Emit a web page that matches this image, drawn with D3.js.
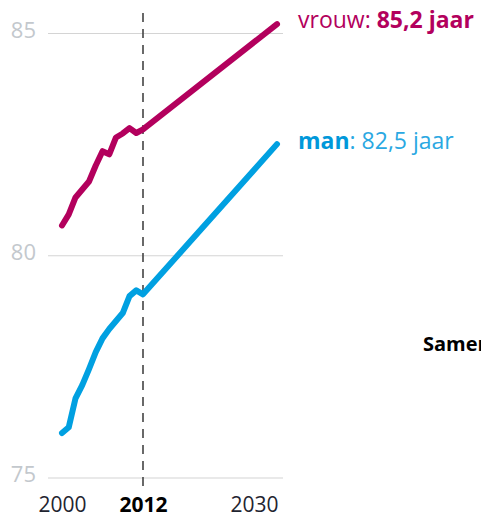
<!DOCTYPE html>
<html>
<head>
<meta charset="utf-8">
<script src="https://cdn.jsdelivr.net/npm/d3@7"></script>
<style>
  body { margin: 0; background: #fff; }
  svg { display: block; font-family: "Open Sans", "Noto Sans", sans-serif; }
</style>
</head>
<body>
<svg id="chart" width="481" height="519"></svg>
<script>
// levensverwachting bij geboorte
const years = [2000, 2001, 2002, 2003, 2004, 2005, 2006, 2007, 2008, 2009, 2010, 2011, 2012, 2030];
const vrouw = [80.67, 80.92, 81.3, 81.48, 81.66, 82.02, 82.34, 82.27, 82.65, 82.74, 82.86, 82.75, 82.83, 85.2];
const man = [76.0, 76.13, 76.78, 77.08, 77.44, 77.82, 78.13, 78.34, 78.52, 78.7, 79.08, 79.21, 79.12, 82.5];
const yTicks = [75, 80, 85];
const xTicks = [2000, 2012, 2030];
const splitYear = 2012;

const svg = d3.select("#chart");

// historisch deel iets smaller dan de prognose
const x = d3.scaleLinear().domain([2000, 2012, 2030]).range([62, 143, 277]);
const y = d3.scaleLinear().domain([75, 85]).range([477.5, 33]);

// horizontale hulplijnen
const yAxis = svg.append("g")
  .attr("transform", "translate(48,0)")
  .call(d3.axisLeft(y).tickValues(yTicks).tickSize(-235).tickPadding(12).tickFormat(d3.format("d")));
yAxis.select(".domain").remove();
yAxis.selectAll("line").attr("stroke", "#d4d4d4").attr("stroke-width", 1.2);
yAxis.selectAll("text")
  .attr("dy", "0.2em")
  .style("font-size", "22px")
  .style("font-family", "'Open Sans', sans-serif")
  .attr("fill", "#c3c8cd");

// jaartallen
const xAxis = svg.append("g")
  .attr("transform", "translate(0,512)")
  .call(d3.axisBottom(x).tickValues(xTicks).tickSize(0).tickFormat(d3.format("d")));
xAxis.select(".domain").remove();
xAxis.selectAll("text")
  .attr("y", 0)
  .attr("dy", 0)
  .style("font-size", "21px")
  .style("font-family", "'Open Sans', sans-serif")
  .style("font-weight", d => d === splitYear ? "bold" : "normal")
  .attr("fill", d => d === splitYear ? "#000" : "#1f2430");
xAxis.selectAll(".tick")
  .filter(d => d === 2030)
  .select("text")
  .attr("text-anchor", "end")
  .attr("x", 1);

// stippellijn bij 2012
svg.append("line")
  .attr("x1", x(splitYear))
  .attr("x2", x(splitYear))
  .attr("y1", 13)
  .attr("y2", 492)
  .attr("stroke", "#444")
  .attr("stroke-width", 1.6)
  .attr("stroke-dasharray", "9,7");

const line = d3.line()
  .x((d, i) => x(years[i]))
  .y(d => y(d));

const series = [
  { name: "vrouw", values: vrouw, color: "#b3005d" },
  { name: "man", values: man, color: "#00a0e1" },
];

series.forEach(s => {
  svg.append("path")
    .datum(s.values)
    .attr("d", line)
    .attr("fill", "none")
    .attr("stroke", s.color)
    .attr("stroke-width", 6)
    .attr("stroke-linecap", "round")
    .attr("stroke-linejoin", "round");
});

const fmt = v => d3.format(".1f")(v).replace(".", ",");
const last = years.length - 1;

// label vrouw
const tv = svg.append("text")
  .attr("x", x(years[last]) + 21)
  .attr("y", y(vrouw[last]) + 4)
  .style("font-size", "23px")
  .attr("fill", "#b3005d");
tv.append("tspan").text("vrouw: ");
tv.append("tspan").style("font-weight", "bold").text(fmt(vrouw[last]) + " jaar");

// label man
const tm = svg.append("text")
  .attr("x", x(years[last]) + 21)
  .attr("y", y(man[last]) + 5)
  .style("font-size", "23px");
tm.append("tspan").style("font-weight", "bold").attr("fill", "#0098da").text("man");
tm.append("tspan").attr("fill", "#2aa8e2").text(": " + fmt(man[last]) + " jaar");

// afgesneden tekst rechts
svg.append("text")
  .attr("x", 423)
  .attr("y", 351)
  .style("font-size", "20px")
  .style("font-weight", "bold")
  .attr("fill", "#000")
  .text("Samen");
</script>
</body>
</html>
